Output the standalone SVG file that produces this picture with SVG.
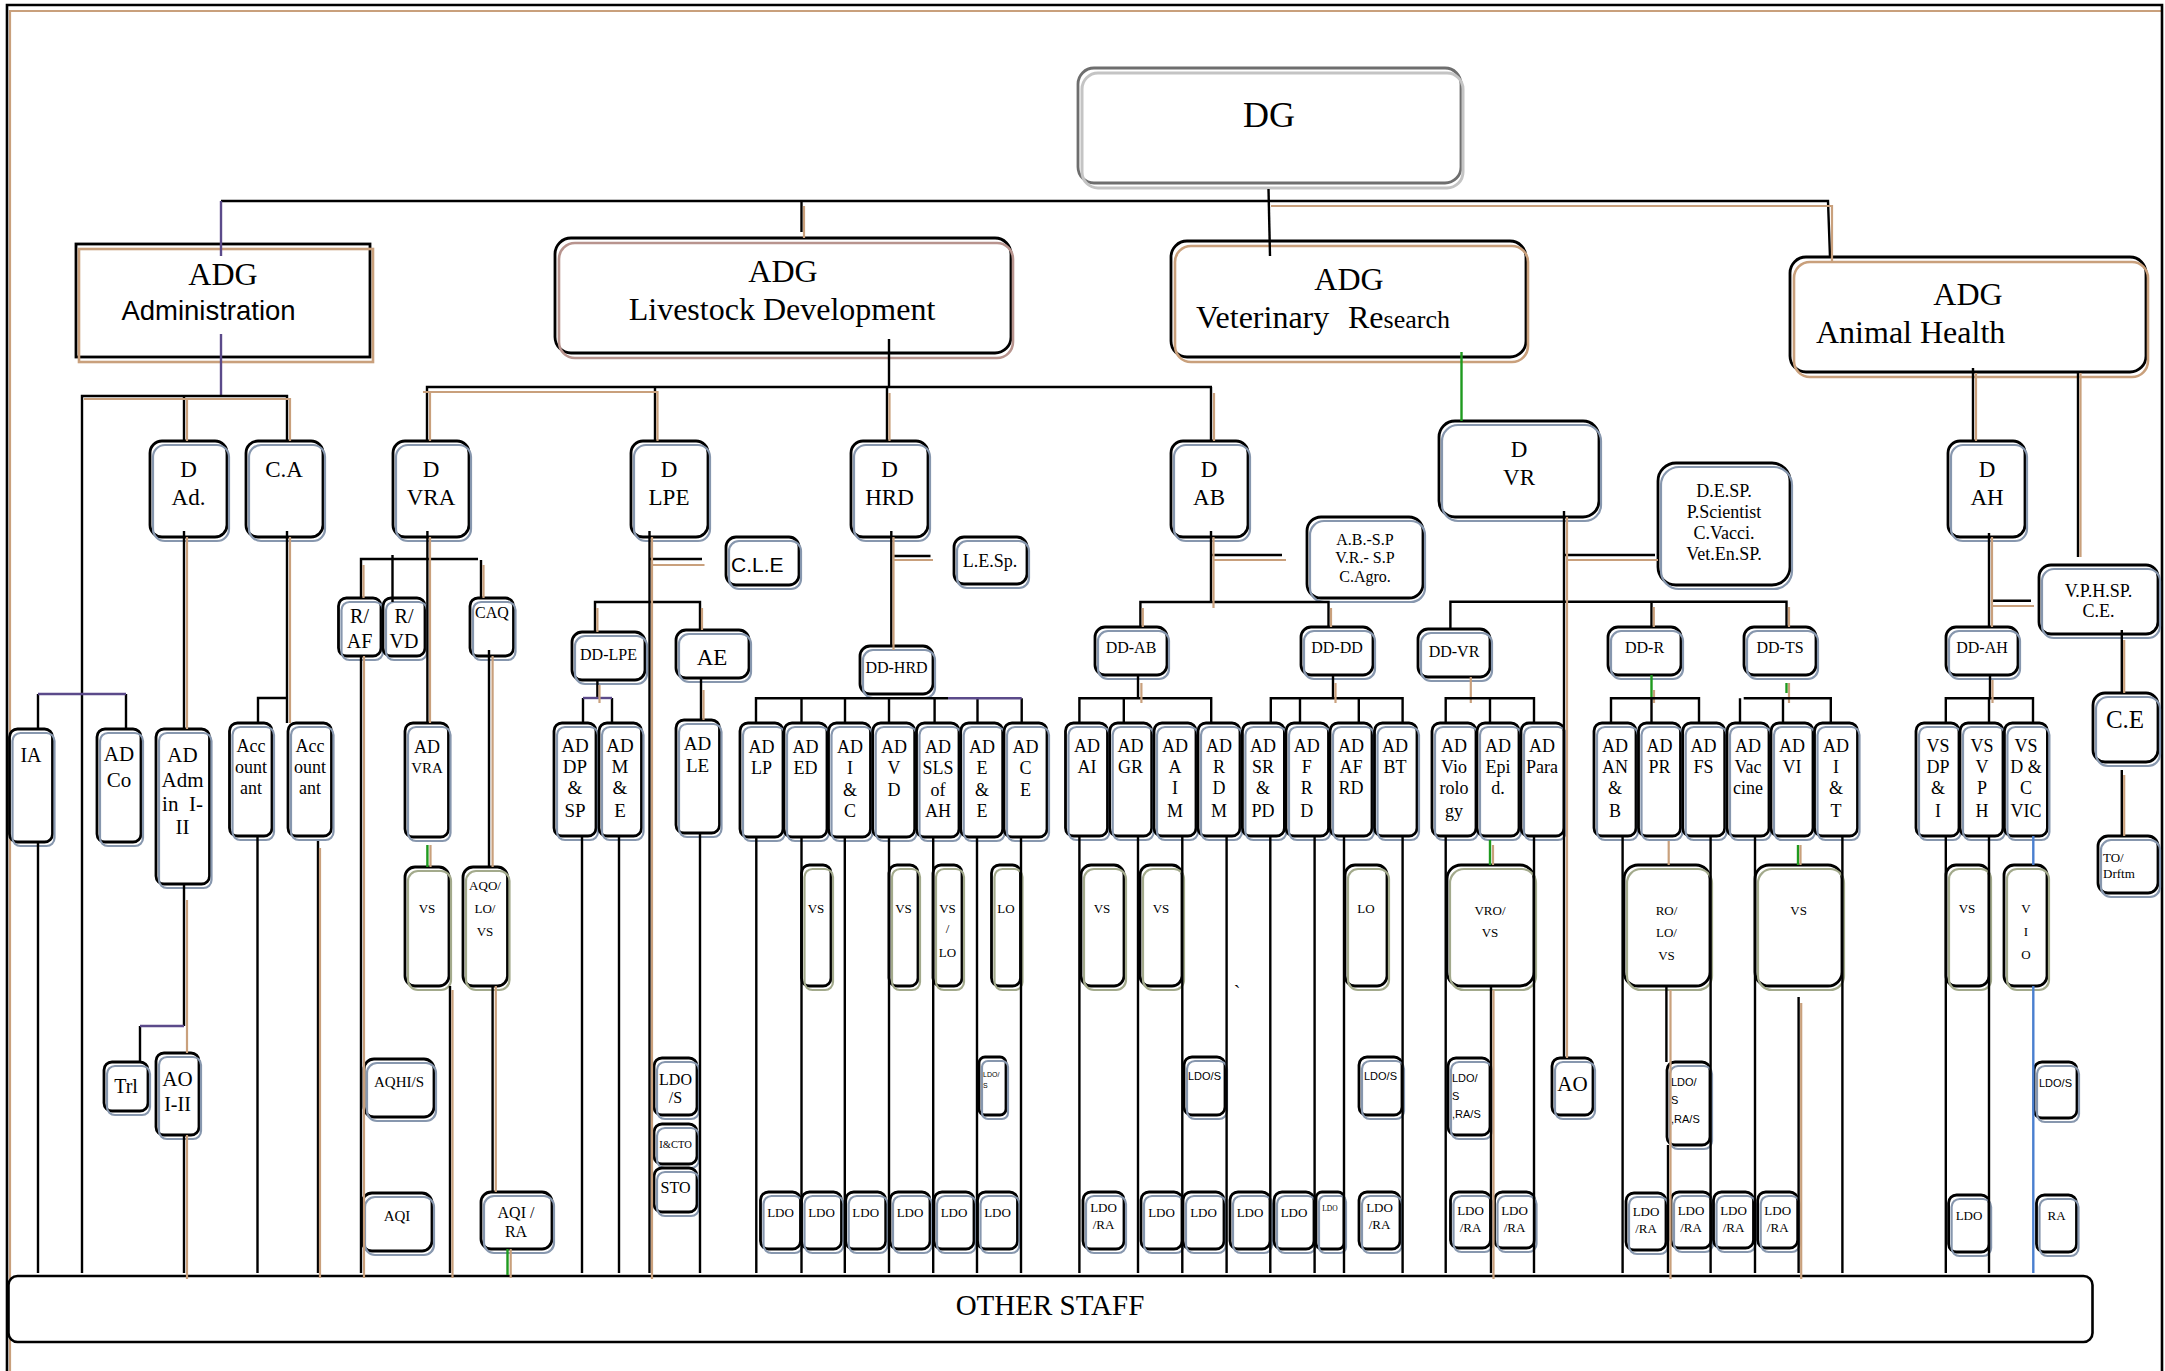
<svg xmlns="http://www.w3.org/2000/svg" width="2165" height="1371" viewBox="0 0 2165 1371">
<defs><style>
.n{fill:#fff;stroke:#000;stroke-width:2.8}
.s{fill:none;stroke:#8797ae;stroke-width:2.2}
.so{fill:none;stroke:#a3aa8c;stroke-width:2.2}
.st{fill:none;stroke:#c9a07c;stroke-width:2.6}
.k{stroke:#000;stroke-width:2.4;fill:none}
.t{stroke:#c9a07c;stroke-width:2.2;fill:none}
.p{stroke:#5b4a8a;stroke-width:2.4;fill:none}
.g{stroke:#1f9a1f;stroke-width:2.4;fill:none}
.b{stroke:#4a7fcf;stroke-width:2.4;fill:none}
text{font-family:"Liberation Serif","Times New Roman",serif;text-anchor:middle;fill:#000}
.sa{font-family:"Liberation Sans",Arial,sans-serif}
.l{text-anchor:start}
</style></defs>
<rect width="2165" height="1371" fill="#fff"/>
<g id="frame">
<path class="t" d="M10,1371 V11 H2161"/>
<path d="M7,1371 V5 H2162 V1371" fill="none" stroke="#000" stroke-width="2.6"/>
</g>
<g id="nodes">
<g id="dg"><rect x="1078" y="68" width="383" height="115" rx="16" fill="#fff" stroke="#6e6e6e" stroke-width="2.8"/><rect x="1082" y="73" width="381" height="115" rx="16" fill="none" stroke="#c4c4c4" stroke-width="3"/><text x="1269" y="127" font-size="36">DG</text></g>
<g id="adg-admin"><rect class="n" x="76" y="244" width="294" height="113"/><rect class="st" x="79" y="249" width="294" height="113"/><text x="223" y="285" font-size="32">ADG</text><text class="sa" x="208.5" y="320" font-size="27.5">Administration</text></g>
<g id="adg-ld"><rect class="n" x="555" y="238" width="456" height="115" rx="16"/><rect x="559" y="243" width="454" height="115" rx="16" fill="none" stroke="#b8948e" stroke-width="2.6"/><text x="783" y="282" font-size="32">ADG</text><text x="782" y="320" font-size="32">Livestock Development</text></g>
<g id="adg-vr"><rect class="n" x="1171" y="241" width="355" height="116" rx="16"/><rect class="st" x="1175" y="246" width="353" height="116" rx="16"/><text x="1349" y="290" font-size="32">ADG</text><text class="l" x="1196" y="328" font-size="32">Veterinary<tspan x="1348">Re</tspan><tspan font-size="26">search</tspan></text></g>
<g id="adg-ah"><rect class="n" x="1790" y="257" width="356" height="115" rx="16"/><rect class="st" x="1794" y="262" width="354" height="115" rx="16"/><text x="1968" y="305" font-size="32">ADG</text><text class="l" x="1816" y="343" font-size="32">Animal Health</text></g>

<g id="d-ad"><rect class="n" x="150" y="441" width="77" height="96" rx="12"/><rect class="s" x="153" y="445" width="76" height="96" rx="12"/><text x="188.5" y="477" font-size="23">D</text><text x="188.5" y="505" font-size="23">Ad.</text></g>
<g id="ca"><rect class="n" x="246" y="441" width="77" height="96" rx="12"/><rect class="s" x="249" y="445" width="76" height="96" rx="12"/><text x="284" y="477" font-size="23">C.A</text></g>
<g id="d-vra"><rect class="n" x="393" y="441" width="76" height="96" rx="12"/><rect class="s" x="396" y="445" width="75" height="96" rx="12"/><text x="431" y="477" font-size="23">D</text><text x="431" y="505" font-size="23">VRA</text></g>
<g id="d-lpe"><rect class="n" x="631" y="441" width="77" height="96" rx="12"/><rect class="s" x="634" y="445" width="76" height="96" rx="12"/><text x="669" y="477" font-size="23">D</text><text x="669" y="505" font-size="23">LPE</text></g>
<g id="d-hrd"><rect class="n" x="851" y="441" width="77" height="96" rx="12"/><rect class="s" x="854" y="445" width="76" height="96" rx="12"/><text x="889.5" y="477" font-size="23">D</text><text x="889.5" y="505" font-size="23">HRD</text></g>
<g id="d-ab"><rect class="n" x="1171" y="441" width="77" height="96" rx="12"/><rect class="s" x="1174" y="445" width="76" height="96" rx="12"/><text x="1209" y="477" font-size="23">D</text><text x="1209" y="505" font-size="23">AB</text></g>
<g id="d-vr"><rect class="n" x="1439" y="421" width="160" height="96" rx="16"/><rect class="s" x="1442" y="425" width="159" height="96" rx="16"/><text x="1519" y="457" font-size="23">D</text><text x="1519" y="485" font-size="23">VR</text></g>
<g id="d-ah"><rect class="n" x="1948" y="441" width="77" height="96" rx="12"/><rect class="s" x="1951" y="445" width="76" height="96" rx="12"/><text x="1987" y="477" font-size="23">D</text><text x="1987" y="505" font-size="23">AH</text></g>

<g id="cle"><rect class="n" x="726" y="537" width="73" height="48" rx="10"/><rect class="s" x="729" y="541" width="72" height="48" rx="10"/><text class="sa l" x="731" y="572" font-size="21">C.L.E</text></g>
<g id="lesp"><rect class="n" x="954" y="537" width="73" height="47" rx="10"/><rect class="s" x="957" y="541" width="72" height="47" rx="10"/><text x="990" y="567" font-size="18">L.E.Sp.</text></g>
<g id="ab-sp"><rect class="n" x="1307" y="517" width="116" height="81" rx="14"/><rect class="s" x="1310" y="521" width="115" height="81" rx="14"/><text x="1365" y="545" font-size="16">A.B.-S.P</text><text x="1365" y="563" font-size="16">V.R.- S.P</text><text x="1365" y="582" font-size="16">C.Agro.</text></g>
<g id="de-sp"><rect class="n" x="1658" y="463" width="132" height="122" rx="18"/><rect class="s" x="1661" y="467" width="131" height="122" rx="18"/><text x="1724" y="497" font-size="18">D.E.SP.</text><text x="1724" y="518" font-size="18">P.Scientist</text><text x="1724" y="539" font-size="18">C.Vacci.</text><text x="1724" y="560" font-size="18">Vet.En.SP.</text></g>
<g id="vphsp"><rect class="n" x="2039" y="565" width="119" height="69" rx="12"/><rect class="s" x="2042" y="569" width="118" height="69" rx="12"/><text x="2098.5" y="597" font-size="18">V.P.H.SP.</text><text x="2098.5" y="617" font-size="18">C.E.</text></g>
<g id="ce"><rect class="n" x="2093" y="693" width="65" height="69" rx="12"/><rect class="s" x="2096" y="697" width="64" height="69" rx="12"/><text x="2125" y="728" font-size="25">C.E</text></g>
<g id="to-drftm"><rect class="n" x="2098" y="836" width="60" height="57" rx="10"/><rect class="s" x="2101" y="840" width="59" height="57" rx="10"/><text class="l" x="2103" y="862" font-size="13">TO/</text><text class="l" x="2103" y="878" font-size="13">Drftm</text></g>

<g id="r-af"><rect class="n" x="338.5" y="598" width="42.5" height="58" rx="8"/><rect class="s" x="341.5" y="602" width="41.5" height="58" rx="8"/><text x="359.5" y="623" font-size="20">R/</text><text x="359.5" y="648" font-size="20">AF</text></g>
<g id="r-vd"><rect class="n" x="383" y="598" width="42" height="58" rx="8"/><rect class="s" x="386" y="602" width="41" height="58" rx="8"/><text x="404" y="623" font-size="20">R/</text><text x="404" y="648" font-size="20">VD</text></g>
<g id="caq"><rect class="n" x="470" y="598" width="43.5" height="58" rx="8"/><rect class="s" x="473" y="602" width="42.5" height="58" rx="8"/><text x="492" y="618" font-size="16">CAQ</text></g>

<g id="dd-lpe"><rect class="n" x="572" y="632" width="73" height="48" rx="10"/><rect class="s" x="575" y="636" width="72" height="48" rx="10"/><text x="608.5" y="660" font-size="16">DD-LPE</text></g>
<g id="ae"><rect class="n" x="676" y="630" width="73" height="48" rx="10"/><rect class="s" x="679" y="634" width="72" height="48" rx="10"/><text x="712" y="665" font-size="23">AE</text></g>
<g id="dd-hrd"><rect class="n" x="860" y="646" width="73" height="48" rx="10"/><rect class="s" x="863" y="650" width="72" height="48" rx="10"/><text x="896.5" y="673" font-size="16">DD-HRD</text></g>
<g id="dd-ab"><rect class="n" x="1095" y="627" width="72" height="48" rx="10"/><rect class="s" x="1098" y="631" width="71" height="48" rx="10"/><text x="1131" y="653" font-size="16">DD-AB</text></g>
<g id="dd-dd"><rect class="n" x="1301" y="627" width="72" height="48" rx="10"/><rect class="s" x="1304" y="631" width="71" height="48" rx="10"/><text x="1337" y="653" font-size="16">DD-DD</text></g>
<g id="dd-vr"><rect class="n" x="1418" y="629" width="72" height="48" rx="10"/><rect class="s" x="1421" y="633" width="71" height="48" rx="10"/><text x="1454" y="657" font-size="16">DD-VR</text></g>
<g id="dd-r"><rect class="n" x="1608" y="627" width="73" height="48" rx="10"/><rect class="s" x="1611" y="631" width="72" height="48" rx="10"/><text x="1644.5" y="653" font-size="16">DD-R</text></g>
<g id="dd-ts"><rect class="n" x="1744" y="627" width="72" height="48" rx="10"/><rect class="s" x="1747" y="631" width="71" height="48" rx="10"/><text x="1780" y="653" font-size="16">DD-TS</text></g>
<g id="dd-ah"><rect class="n" x="1946" y="627" width="72" height="48" rx="10"/><rect class="s" x="1949" y="631" width="71" height="48" rx="10"/><text x="1982" y="653" font-size="16">DD-AH</text></g>

<g id="ia"><rect class="n" x="9.5" y="729" width="43" height="113" rx="8"/><rect class="s" x="12.5" y="733" width="42" height="113" rx="8"/><text x="31" y="762" font-size="20">IA</text></g>
<g id="ad-co"><rect class="n" x="97" y="729" width="44" height="113" rx="8"/><rect class="s" x="100" y="733" width="43" height="113" rx="8"/><text x="119" y="761" font-size="21">AD</text><text x="119" y="787" font-size="21">Co</text></g>
<g id="ad-adm"><rect class="n" x="156" y="729" width="53.5" height="155" rx="8"/><rect class="s" x="159" y="733" width="52.5" height="155" rx="8"/><text x="182.5" y="762" font-size="21">AD</text><text x="182.5" y="787" font-size="21">Adm</text><text x="182.5" y="811" font-size="21" xml:space="preserve">in  I-</text><text x="182.5" y="834" font-size="21">II</text></g>
<g id="acc1"><rect class="n" x="229.5" y="723" width="42.5" height="113" rx="8"/><rect class="s" x="232.5" y="727" width="41.5" height="113" rx="8"/><text x="251" y="752" font-size="18">Acc</text><text x="251" y="773" font-size="18">ount</text><text x="251" y="794" font-size="18">ant</text></g>
<g id="acc2"><rect class="n" x="288" y="723" width="43.5" height="113" rx="8"/><rect class="s" x="291" y="727" width="42.5" height="113" rx="8"/><text x="310" y="752" font-size="18">Acc</text><text x="310" y="773" font-size="18">ount</text><text x="310" y="794" font-size="18">ant</text></g>
<g id="ad-vra"><rect class="n" x="405" y="723" width="43.5" height="114" rx="8"/><rect class="s" x="408" y="727" width="42.5" height="114" rx="8"/><text x="427" y="753" font-size="18">AD</text><text x="427" y="773" font-size="15">VRA</text></g>
<g id="ad-dpsp"><rect class="n" x="554" y="723" width="42" height="113" rx="8"/><rect class="s" x="557" y="727" width="41" height="113" rx="8"/><text x="575" y="752" font-size="19">AD</text><text x="575" y="773" font-size="19">DP</text><text x="575" y="794" font-size="19">&amp;</text><text x="575" y="817" font-size="19">SP</text></g>
<g id="ad-me"><rect class="n" x="599" y="723" width="42.5" height="113" rx="8"/><rect class="s" x="602" y="727" width="41.5" height="113" rx="8"/><text x="620" y="752" font-size="19">AD</text><text x="620" y="773" font-size="19">M</text><text x="620" y="794" font-size="19">&amp;</text><text x="620" y="817" font-size="19">E</text></g>
<g id="ad-le"><rect class="n" x="676" y="720" width="43.5" height="113" rx="8"/><rect class="s" x="679" y="724" width="42.5" height="113" rx="8"/><text x="697.5" y="750" font-size="19">AD</text><text x="697.5" y="772" font-size="19">LE</text></g>

<g id="ad-lp"><rect class="n" x="740" y="723" width="43" height="114" rx="8"/><rect class="s" x="743" y="727" width="42" height="114" rx="8"/><text x="761.5" y="753" font-size="18">AD</text><text x="761.5" y="774" font-size="18">LP</text></g>
<g id="ad-ed"><rect class="n" x="784" y="723" width="43" height="114" rx="8"/><rect class="s" x="787" y="727" width="42" height="114" rx="8"/><text x="805.5" y="753" font-size="18">AD</text><text x="805.5" y="774" font-size="18">ED</text></g>
<g id="ad-ic"><rect class="n" x="828.5" y="723" width="42" height="114" rx="8"/><rect class="s" x="831.5" y="727" width="41" height="114" rx="8"/><text x="850" y="753" font-size="18">AD</text><text x="850" y="774" font-size="18">I</text><text x="850" y="796" font-size="18">&amp;</text><text x="850" y="817" font-size="18">C</text></g>
<g id="ad-vd"><rect class="n" x="872.7" y="723" width="42" height="114" rx="8"/><rect class="s" x="875.7" y="727" width="41" height="114" rx="8"/><text x="894" y="753" font-size="18">AD</text><text x="894" y="774" font-size="18">V</text><text x="894" y="796" font-size="18">D</text></g>
<g id="ad-sls"><rect class="n" x="916.5" y="723" width="42.5" height="114" rx="8"/><rect class="s" x="919.5" y="727" width="41.5" height="114" rx="8"/><text x="938" y="753" font-size="18">AD</text><text x="938" y="774" font-size="18">SLS</text><text x="938" y="796" font-size="18">of</text><text x="938" y="817" font-size="18">AH</text></g>
<g id="ad-ee"><rect class="n" x="960.7" y="723" width="42" height="114" rx="8"/><rect class="s" x="963.7" y="727" width="41" height="114" rx="8"/><text x="982" y="753" font-size="18">AD</text><text x="982" y="774" font-size="18">E</text><text x="982" y="796" font-size="18">&amp;</text><text x="982" y="817" font-size="18">E</text></g>
<g id="ad-ce"><rect class="n" x="1004" y="723" width="43" height="114" rx="8"/><rect class="s" x="1007" y="727" width="42" height="114" rx="8"/><text x="1025.5" y="753" font-size="18">AD</text><text x="1025.5" y="774" font-size="18">C</text><text x="1025.5" y="796" font-size="18">E</text></g>

<g id="ad-ai"><rect class="n" x="1065.5" y="723" width="42" height="113" rx="8"/><rect class="s" x="1068.5" y="727" width="41" height="113" rx="8"/><text x="1087" y="752" font-size="18">AD</text><text x="1087" y="773" font-size="18">AI</text></g>
<g id="ad-gr"><rect class="n" x="1109.7" y="723" width="42" height="113" rx="8"/><rect class="s" x="1112.7" y="727" width="41" height="113" rx="8"/><text x="1130.6" y="752" font-size="18">AD</text><text x="1130.6" y="773" font-size="18">GR</text></g>
<g id="ad-aim"><rect class="n" x="1154" y="723" width="42" height="113" rx="8"/><rect class="s" x="1157" y="727" width="41" height="113" rx="8"/><text x="1175" y="752" font-size="18">AD</text><text x="1175" y="773" font-size="18">A</text><text x="1175" y="794" font-size="18">I</text><text x="1175" y="817" font-size="18">M</text></g>
<g id="ad-rdm"><rect class="n" x="1198" y="723" width="42" height="113" rx="8"/><rect class="s" x="1201" y="727" width="41" height="113" rx="8"/><text x="1219" y="752" font-size="18">AD</text><text x="1219" y="773" font-size="18">R</text><text x="1219" y="794" font-size="18">D</text><text x="1219" y="817" font-size="18">M</text></g>
<g id="ad-srpd"><rect class="n" x="1242.4" y="723" width="42" height="113" rx="8"/><rect class="s" x="1245.4" y="727" width="41" height="113" rx="8"/><text x="1263" y="752" font-size="18">AD</text><text x="1263" y="773" font-size="18">SR</text><text x="1263" y="794" font-size="18">&amp;</text><text x="1263" y="817" font-size="18">PD</text></g>
<g id="ad-frd"><rect class="n" x="1286" y="723" width="42.5" height="113" rx="8"/><rect class="s" x="1289" y="727" width="41.5" height="113" rx="8"/><text x="1306.7" y="752" font-size="18">AD</text><text x="1306.7" y="773" font-size="18">F</text><text x="1306.7" y="794" font-size="18">R</text><text x="1306.7" y="817" font-size="18">D</text></g>
<g id="ad-afrd"><rect class="n" x="1330" y="723" width="42" height="113" rx="8"/><rect class="s" x="1333" y="727" width="41" height="113" rx="8"/><text x="1351" y="752" font-size="18">AD</text><text x="1351" y="773" font-size="18">AF</text><text x="1351" y="794" font-size="18">RD</text></g>
<g id="ad-bt"><rect class="n" x="1374.5" y="723" width="42.5" height="113" rx="8"/><rect class="s" x="1377.5" y="727" width="41.5" height="113" rx="8"/><text x="1395" y="752" font-size="18">AD</text><text x="1395" y="773" font-size="18">BT</text></g>

<g id="ad-viro"><rect class="n" x="1432" y="723" width="44" height="113" rx="8"/><rect class="s" x="1435" y="727" width="43" height="113" rx="8"/><text x="1454" y="752" font-size="18">AD</text><text x="1454" y="773" font-size="18">Vio</text><text x="1454" y="794" font-size="18">rolo</text><text x="1454" y="817" font-size="18">gy</text></g>
<g id="ad-epid"><rect class="n" x="1477" y="723" width="42" height="113" rx="8"/><rect class="s" x="1480" y="727" width="41" height="113" rx="8"/><text x="1498" y="752" font-size="18">AD</text><text x="1498" y="773" font-size="18">Epi</text><text x="1498" y="794" font-size="18">d.</text></g>
<g id="ad-para"><rect class="n" x="1521" y="723" width="43" height="113" rx="8"/><rect class="s" x="1524" y="727" width="42" height="113" rx="8"/><text x="1542" y="752" font-size="18">AD</text><text x="1542" y="773" font-size="18">Para</text></g>
<g id="ad-anb"><rect class="n" x="1594" y="723" width="42" height="113" rx="8"/><rect class="s" x="1597" y="727" width="41" height="113" rx="8"/><text x="1615" y="752" font-size="18">AD</text><text x="1615" y="773" font-size="18">AN</text><text x="1615" y="794" font-size="18">&amp;</text><text x="1615" y="817" font-size="18">B</text></g>
<g id="ad-pr"><rect class="n" x="1638.5" y="723" width="42" height="113" rx="8"/><rect class="s" x="1641.5" y="727" width="41" height="113" rx="8"/><text x="1659.5" y="752" font-size="18">AD</text><text x="1659.5" y="773" font-size="18">PR</text></g>
<g id="ad-fs"><rect class="n" x="1682.7" y="723" width="42" height="113" rx="8"/><rect class="s" x="1685.7" y="727" width="41" height="113" rx="8"/><text x="1703.5" y="752" font-size="18">AD</text><text x="1703.5" y="773" font-size="18">FS</text></g>
<g id="ad-vac"><rect class="n" x="1727" y="723" width="42" height="113" rx="8"/><rect class="s" x="1730" y="727" width="41" height="113" rx="8"/><text x="1748" y="752" font-size="18">AD</text><text x="1748" y="773" font-size="18">Vac</text><text x="1748" y="794" font-size="18">cine</text></g>
<g id="ad-vi"><rect class="n" x="1771" y="723" width="42" height="113" rx="8"/><rect class="s" x="1774" y="727" width="41" height="113" rx="8"/><text x="1792" y="752" font-size="18">AD</text><text x="1792" y="773" font-size="18">VI</text></g>
<g id="ad-it"><rect class="n" x="1814.5" y="723" width="43" height="113" rx="8"/><rect class="s" x="1817.5" y="727" width="42" height="113" rx="8"/><text x="1836" y="752" font-size="18">AD</text><text x="1836" y="773" font-size="18">I</text><text x="1836" y="794" font-size="18">&amp;</text><text x="1836" y="817" font-size="18">T</text></g>
<g id="vs-dpi"><rect class="n" x="1916" y="723" width="43" height="113" rx="8"/><rect class="s" x="1919" y="727" width="42" height="113" rx="8"/><text x="1938" y="752" font-size="18">VS</text><text x="1938" y="773" font-size="18">DP</text><text x="1938" y="794" font-size="18">&amp;</text><text x="1938" y="817" font-size="18">I</text></g>
<g id="vs-vph"><rect class="n" x="1960" y="723" width="43" height="113" rx="8"/><rect class="s" x="1963" y="727" width="42" height="113" rx="8"/><text x="1982" y="752" font-size="18">VS</text><text x="1982" y="773" font-size="18">V</text><text x="1982" y="794" font-size="18">P</text><text x="1982" y="817" font-size="18">H</text></g>
<g id="vs-dcvic"><rect class="n" x="2004.4" y="723" width="43" height="113" rx="8"/><rect class="s" x="2007.4" y="727" width="42" height="113" rx="8"/><text x="2026" y="752" font-size="18">VS</text><text x="2026" y="773" font-size="18">D &amp;</text><text x="2026" y="794" font-size="18">C</text><text x="2026" y="817" font-size="18">VIC</text></g>

<g id="vs-vra"><rect class="n" x="405" y="867" width="44" height="119" rx="10"/><rect class="so" x="408" y="871" width="43" height="119" rx="10"/><text x="427" y="913" font-size="13">VS</text></g>
<g id="aqo"><rect class="n" x="463" y="867" width="44.5" height="119" rx="10"/><rect class="so" x="466" y="871" width="43.5" height="119" rx="10"/><text x="485" y="890" font-size="13">AQO/</text><text x="485" y="913" font-size="13">LO/</text><text x="485" y="936" font-size="13">VS</text></g>
<g id="vs-hrd1"><rect class="n" x="801.5" y="865" width="29.5" height="121" rx="8"/><rect class="so" x="804.5" y="869" width="28.5" height="121" rx="8"/><text x="816" y="913" font-size="13">VS</text></g>
<g id="vs-hrd2"><rect class="n" x="889" y="865" width="29" height="121" rx="8"/><rect class="so" x="892" y="869" width="28" height="121" rx="8"/><text x="903.5" y="913" font-size="13">VS</text></g>
<g id="vs-lo"><rect class="n" x="933" y="865" width="29" height="121" rx="8"/><rect class="so" x="936" y="869" width="28" height="121" rx="8"/><text x="947.5" y="913" font-size="13">VS</text><text x="947.5" y="933" font-size="13">/</text><text x="947.5" y="957" font-size="13">LO</text></g>
<g id="lo-hrd"><rect class="n" x="991.5" y="865" width="29" height="121" rx="8"/><rect class="so" x="994.5" y="869" width="28" height="121" rx="8"/><text x="1006" y="913" font-size="13">LO</text></g>
<g id="vs-ab1"><rect class="n" x="1081" y="865" width="43" height="121" rx="10"/><rect class="so" x="1084" y="869" width="42" height="121" rx="10"/><text x="1102" y="913" font-size="13">VS</text></g>
<g id="vs-ab2"><rect class="n" x="1140" y="865" width="42" height="121" rx="10"/><rect class="so" x="1143" y="869" width="41" height="121" rx="10"/><text x="1161" y="913" font-size="13">VS</text></g>
<g id="lo-ab"><rect class="n" x="1345" y="865" width="42" height="121" rx="10"/><rect class="so" x="1348" y="869" width="41" height="121" rx="10"/><text x="1366" y="913" font-size="13">LO</text></g>
<g id="vro-vs"><rect class="n" x="1447" y="865" width="87" height="121" rx="14"/><rect class="so" x="1450" y="869" width="86" height="121" rx="14"/><text x="1490" y="915" font-size="13">VRO/</text><text x="1490" y="937" font-size="13">VS</text></g>
<g id="ro-lo-vs"><rect class="n" x="1624" y="865" width="86" height="121" rx="14"/><rect class="so" x="1627" y="869" width="85" height="121" rx="14"/><text x="1666.5" y="915" font-size="13">RO/</text><text x="1666.5" y="937" font-size="13">LO/</text><text x="1666.5" y="960" font-size="13">VS</text></g>
<g id="vs-ts"><rect class="n" x="1755" y="865" width="87" height="121" rx="14"/><rect class="so" x="1758" y="869" width="86" height="121" rx="14"/><text x="1798.6" y="915" font-size="13">VS</text></g>
<g id="vs-ah"><rect class="n" x="1946" y="865" width="43" height="121" rx="10"/><rect class="so" x="1949" y="869" width="42" height="121" rx="10"/><text x="1967" y="913" font-size="13">VS</text></g>
<g id="vio"><rect class="n" x="2004" y="865" width="43" height="121" rx="10"/><rect class="so" x="2007" y="869" width="42" height="121" rx="10"/><text x="2026" y="913" font-size="13">V</text><text x="2026" y="936" font-size="13">I</text><text x="2026" y="959" font-size="13">O</text></g>

<g id="trl"><rect class="n" x="104" y="1062" width="44" height="49" rx="8"/><rect class="s" x="107" y="1066" width="43" height="49" rx="8"/><text x="126" y="1093" font-size="20">Trl</text></g>
<g id="ao-i-ii"><rect class="n" x="156" y="1053" width="43" height="82" rx="8"/><rect class="s" x="159" y="1057" width="42" height="82" rx="8"/><text x="177.5" y="1086" font-size="21">AO</text><text x="177.5" y="1111" font-size="20">I-II</text></g>
<g id="aqhi-s"><rect class="n" x="364" y="1059" width="70" height="58" rx="10"/><rect class="s" x="367" y="1063" width="69" height="58" rx="10"/><text x="399" y="1087" font-size="15">AQHI/S</text></g>
<g id="ldo-s-lpe"><rect class="n" x="654" y="1058" width="43" height="57" rx="8"/><rect class="s" x="657" y="1062" width="42" height="57" rx="8"/><text x="675.5" y="1085" font-size="16">LDO</text><text x="675.5" y="1103" font-size="16">/S</text></g>
<g id="icto"><rect class="n" x="654" y="1124" width="43" height="40" rx="8"/><rect class="s" x="657" y="1128" width="42" height="40" rx="8"/><text x="675.5" y="1148" font-size="10.5">I&amp;CTO</text></g>
<g id="sto"><rect class="n" x="654" y="1168" width="43" height="44" rx="8"/><rect class="s" x="657" y="1172" width="42" height="44" rx="8"/><text x="675.5" y="1193" font-size="16">STO</text></g>
<g id="ldo-s-hrd"><rect class="n" x="979" y="1057" width="27" height="58" rx="6"/><rect class="s" x="982" y="1061" width="26" height="58" rx="6"/><text class="sa l" x="983" y="1077" font-size="7">LDO/</text><text class="sa l" x="983" y="1088" font-size="7">S</text></g>
<g id="ldo-s-ab1"><rect class="n" x="1184" y="1057" width="41" height="58" rx="8"/><rect class="s" x="1187" y="1061" width="40" height="58" rx="8"/><text class="sa" x="1204.5" y="1080" font-size="11">LDO/S</text></g>
<g id="ldo-s-ab2"><rect class="n" x="1359" y="1057" width="43" height="58" rx="8"/><rect class="s" x="1362" y="1061" width="42" height="58" rx="8"/><text class="sa" x="1380.5" y="1080" font-size="11">LDO/S</text></g>
<g id="ldo-s-ra-vr"><rect class="n" x="1448" y="1058" width="42" height="77" rx="8"/><rect class="s" x="1451" y="1062" width="41" height="77" rx="8"/><text class="sa l" x="1452" y="1082" font-size="11">LDO/</text><text class="sa l" x="1452" y="1100" font-size="11">S</text><text class="sa l" x="1452" y="1118" font-size="11">,RA/S</text></g>
<g id="ao-vr"><rect class="n" x="1552" y="1058" width="41" height="57" rx="8"/><rect class="s" x="1555" y="1062" width="40" height="57" rx="8"/><text x="1572.5" y="1091" font-size="21">AO</text></g>
<g id="ldo-s-ra-r"><rect class="n" x="1667" y="1062" width="43" height="83" rx="8"/><rect class="s" x="1670" y="1066" width="42" height="83" rx="8"/><text class="sa l" x="1671" y="1086" font-size="11">LDO/</text><text class="sa l" x="1671" y="1104" font-size="11">S</text><text class="sa l" x="1671" y="1123" font-size="11">,RA/S</text></g>
<g id="ldo-s-ah"><rect class="n" x="2034" y="1062" width="43" height="56" rx="8"/><rect class="s" x="2037" y="1066" width="42" height="56" rx="8"/><text class="sa" x="2055.5" y="1087" font-size="11">LDO/S</text></g>

<g id="aqi"><rect class="n" x="362" y="1193" width="70" height="58" rx="10"/><rect class="s" x="365" y="1197" width="69" height="58" rx="10"/><text x="397" y="1221" font-size="15">AQI</text></g>
<g id="aqi-ra"><rect class="n" x="481" y="1192" width="71" height="57" rx="10"/><rect class="s" x="484" y="1196" width="70" height="57" rx="10"/><text x="516" y="1218" font-size="16">AQI /</text><text x="516" y="1237" font-size="16">RA</text></g>
<g id="ldo-hrd1"><rect class="n" x="760.5" y="1192" width="40" height="57" rx="8"/><rect class="s" x="763.5" y="1196" width="39" height="57" rx="8"/><text x="780.5" y="1217" font-size="13">LDO</text></g>
<g id="ldo-hrd2"><rect class="n" x="801.5" y="1192" width="40" height="57" rx="8"/><rect class="s" x="804.5" y="1196" width="39" height="57" rx="8"/><text x="821.5" y="1217" font-size="13">LDO</text></g>
<g id="ldo-hrd3"><rect class="n" x="845.7" y="1192" width="40" height="57" rx="8"/><rect class="s" x="848.7" y="1196" width="39" height="57" rx="8"/><text x="865.7" y="1217" font-size="13">LDO</text></g>
<g id="ldo-hrd4"><rect class="n" x="890" y="1192" width="40" height="57" rx="8"/><rect class="s" x="893" y="1196" width="39" height="57" rx="8"/><text x="910" y="1217" font-size="13">LDO</text></g>
<g id="ldo-hrd5"><rect class="n" x="934" y="1192" width="40" height="57" rx="8"/><rect class="s" x="937" y="1196" width="39" height="57" rx="8"/><text x="954" y="1217" font-size="13">LDO</text></g>
<g id="ldo-hrd6"><rect class="n" x="977.5" y="1192" width="40" height="57" rx="8"/><rect class="s" x="980.5" y="1196" width="39" height="57" rx="8"/><text x="997.5" y="1217" font-size="13">LDO</text></g>
<g id="ldo-ra-ab1"><rect class="n" x="1083" y="1192" width="41" height="57" rx="8"/><rect class="s" x="1086" y="1196" width="40" height="57" rx="8"/><text x="1103.5" y="1212" font-size="13">LDO</text><text x="1103.5" y="1229" font-size="13">/RA</text></g>
<g id="ldo-ab1"><rect class="n" x="1141" y="1192" width="41" height="57" rx="8"/><rect class="s" x="1144" y="1196" width="40" height="57" rx="8"/><text x="1161.5" y="1217" font-size="13">LDO</text></g>
<g id="ldo-ab2"><rect class="n" x="1183" y="1192" width="41" height="57" rx="8"/><rect class="s" x="1186" y="1196" width="40" height="57" rx="8"/><text x="1203.5" y="1217" font-size="13">LDO</text></g>
<g id="ldo-ab3"><rect class="n" x="1230" y="1192" width="40" height="57" rx="8"/><rect class="s" x="1233" y="1196" width="39" height="57" rx="8"/><text x="1250" y="1217" font-size="13">LDO</text></g>
<g id="ldo-ab4"><rect class="n" x="1274" y="1192" width="40" height="57" rx="8"/><rect class="s" x="1277" y="1196" width="39" height="57" rx="8"/><text x="1294" y="1217" font-size="13">LDO</text></g>
<g id="ldo-ab5"><rect class="n" x="1316" y="1192" width="28" height="57" rx="6"/><rect class="s" x="1319" y="1196" width="27" height="57" rx="6"/><text x="1330" y="1211" font-size="7.5">LDO</text></g>
<g id="ldo-ra-ab2"><rect class="n" x="1359" y="1192" width="41" height="57" rx="8"/><rect class="s" x="1362" y="1196" width="40" height="57" rx="8"/><text x="1379.5" y="1212" font-size="13">LDO</text><text x="1379.5" y="1229" font-size="13">/RA</text></g>
<g id="ldo-ra-vr1"><rect class="n" x="1450.5" y="1192" width="40" height="56" rx="8"/><rect class="s" x="1453.5" y="1196" width="39" height="56" rx="8"/><text x="1470.5" y="1215" font-size="13">LDO</text><text x="1470.5" y="1232" font-size="13">/RA</text></g>
<g id="ldo-ra-vr2"><rect class="n" x="1494.5" y="1192" width="40" height="56" rx="8"/><rect class="s" x="1497.5" y="1196" width="39" height="56" rx="8"/><text x="1514.5" y="1215" font-size="13">LDO</text><text x="1514.5" y="1232" font-size="13">/RA</text></g>
<g id="ldo-ra-r1"><rect class="n" x="1626" y="1193" width="40" height="57" rx="8"/><rect class="s" x="1629" y="1197" width="39" height="57" rx="8"/><text x="1646" y="1216" font-size="13">LDO</text><text x="1646" y="1233" font-size="13">/RA</text></g>
<g id="ldo-ra-r2"><rect class="n" x="1671" y="1192" width="40" height="56" rx="8"/><rect class="s" x="1674" y="1196" width="39" height="56" rx="8"/><text x="1691" y="1215" font-size="13">LDO</text><text x="1691" y="1232" font-size="13">/RA</text></g>
<g id="ldo-ra-r3"><rect class="n" x="1713.5" y="1192" width="40" height="56" rx="8"/><rect class="s" x="1716.5" y="1196" width="39" height="56" rx="8"/><text x="1733.5" y="1215" font-size="13">LDO</text><text x="1733.5" y="1232" font-size="13">/RA</text></g>
<g id="ldo-ra-r4"><rect class="n" x="1757.7" y="1192" width="40" height="56" rx="8"/><rect class="s" x="1760.7" y="1196" width="39" height="56" rx="8"/><text x="1777.7" y="1215" font-size="13">LDO</text><text x="1777.7" y="1232" font-size="13">/RA</text></g>
<g id="ldo-ah"><rect class="n" x="1948.6" y="1195" width="40.5" height="57" rx="8"/><rect class="s" x="1951.6" y="1199" width="39.5" height="57" rx="8"/><text x="1969" y="1220" font-size="13">LDO</text></g>
<g id="ra-ah"><rect class="n" x="2036.5" y="1195" width="40" height="57" rx="8"/><rect class="s" x="2039.5" y="1199" width="39" height="57" rx="8"/><text x="2056.5" y="1220" font-size="13">RA</text></g>

<g id="other-staff"><rect x="8.5" y="1276" width="2084" height="66" rx="9" fill="#fff" stroke="#000" stroke-width="2.6"/><text x="1050" y="1315" font-size="29">OTHER STAFF</text></g>
<text x="1237" y="1000" font-size="20">`</text>
</g>

<g id="connectors">
<path class="k" d="M221,201 H1828 L1830,257"/>
<path class="t" d="M1271,206 H1832 V261"/>
<path class="p" d="M221,201 V256"/>
<path class="k" d="M801.5,201 V232"/>
<path class="t" d="M804,206 V238"/>
<path class="k" d="M1268.5,189 L1270,256"/>

<path class="p" d="M221,334 V395"/>
<path class="k" d="M82,1273 V396 H287 V441 M184,396 V440"/>
<path class="t" d="M84,399 H290 V441 M187,399 V441"/>

<path class="k" d="M889,339 V387 M427,441 V387 H1212 M655,387 V441 M887,387 V441 M1211,387 V441"/>
<path class="t" d="M423,392 H657.5 V441 M430,392 V441 M889.5,393 V441 M1214,393 V441"/>

<path class="g" d="M1461.5,352 V421"/>
<path class="k" d="M1973,368 V441 M2078,372 V557"/>
<path class="t" d="M1976,373 V441 M2080.5,373 V557"/>

<path class="k" d="M184,531 V729 M287,531 V723 M258,723 V698 H287"/>
<path class="t" d="M187,537 V729 M290,537 V723"/>
<path class="k" d="M38,729 V694 M126,694 V729"/>
<path class="p" d="M38,694 H126"/>
<path class="k" d="M38,842 V1273"/>
<path class="k" d="M184,884 V1026 M140,1026 V1062 M184,1135 V1273"/>
<path class="p" d="M140,1026 H184"/>
<path class="t" d="M187,900 V1053 M187,1135 V1279"/>
<path class="k" d="M257.5,836 V1273 M318,841 V1273"/>
<path class="t" d="M320,848 V1278"/>

<path class="k" d="M427.4,531 V723 M361,598 V559 H478 M392.5,555 V602 M481,560 V598"/>
<path class="t" d="M430,537 V723 M363.5,565 V598 M483.5,565 V598"/>
<path class="k" d="M361,656 V1273 M489,650 V867 M450,986 V1273 M492.6,986 V1192"/>
<path class="t" d="M364,656 V1278 M492.6,656 V867 M452.5,990 V1278 M495.8,986 V1192 M430.5,845 V867 M510.7,1249 V1278"/>
<path class="g" d="M427.4,845 V867 M507.5,1249 V1275"/>

<path class="k" d="M649.5,531 V1273 M649.5,559 H702 M595,632 V602 H700 V630"/>
<path class="t" d="M652,537 V1279 M652,565 H704.5 M597.4,608 V632 M702,608 V630"/>
<path class="k" d="M597.4,680 V698 M583,698 V723 M612,698 V723 M701,678 V720"/>
<path class="p" d="M583,698 H612"/>
<path class="t" d="M599.5,685 V703 M703.5,690 V720"/>
<path class="k" d="M582,836 V1273 M619,836 V1273 M700,833 V1273"/>

<path class="k" d="M891.3,531 V646 M893,556 H930.5"/>
<path class="t" d="M893.5,537 V650 M893.5,560 H933"/>
<path class="k" d="M756,723 V698.3 H948 M801.5,698.3 V723 M845,698.3 V723 M889,698.3 V723 M934.6,698.3 V723 M977.5,698.3 V723 M1021.7,698.3 V723"/>
<path class="p" d="M948,698.3 H1021.7"/>
<path class="k" d="M756.3,837 V1273 M801.5,837 V1273 M844.8,837 V1273 M889,837 V1273 M933.2,837 V1273 M977,837 V1273 M1021,837 V1273"/>

<path class="k" d="M1211,531 V602 M1211,555 H1282 M1140.4,627 V602 H1328.5 V627"/>
<path class="t" d="M1213.5,537 V608 M1213.5,560 H1286 M1142.8,608 V627 M1331,608 V627"/>
<path class="k" d="M1138,675 V698.3 M1079.4,723 V698.3 H1211.2 V723 M1123.8,698.3 V723"/>
<path class="t" d="M1141.4,683 V703"/>
<path class="k" d="M1333,675 V698.3 M1270.8,723 V698.3 H1402.6 V723 M1300,698.3 V723 M1358.8,698.3 V723"/>
<path class="t" d="M1335.5,683 V703"/>
<path class="k" d="M1079.4,836 V1273 M1138,836 V1273 M1182.3,836 V1273 M1226.6,836 V1273 M1270.3,836 V1273 M1314.6,836 V1273 M1344,836 V1273 M1402.6,836 V1273"/>

<path class="k" d="M1564,511 V1058 M1564,555 H1655 M1450.4,629 V601.7 H1786.5 V627 M1651.5,601.7 V627"/>
<path class="t" d="M1567,517 V1058 M1567,560 H1658 M1653.8,607 V627 M1789,607 V627"/>
<path class="t" d="M1470.8,677 V703"/>
<path class="k" d="M1445.7,723 V698.3 H1534 V723 M1490,698.3 V723"/>
<path class="k" d="M1445.7,836 V1273 M1534,836 V1273 M1491,986 V1273"/>
<path class="g" d="M1490,840 V865"/>
<path class="t" d="M1493,845 V865 M1493.5,990 V1279"/>

<path class="g" d="M1651.5,675 V698.3"/>
<path class="t" d="M1654,690 V703"/>
<path class="k" d="M1611,723 V698.3 H1699 V723 M1651.5,698.3 V723"/>
<path class="k" d="M1622.6,836 V1273 M1710.6,836 V1273 M1666.4,986 V1062 M1668,1145 V1273"/>
<path class="t" d="M1668.7,841 V865 M1670.5,990 V1279"/>
<path class="g" d="M1786.5,683 V693"/>
<path class="t" d="M1789,683 V703"/>
<path class="k" d="M1743.7,698.3 H1830.8 V723 M1740,698.3 V723 M1783,698.3 V723"/>
<path class="k" d="M1755,836 V1273 M1842.4,836 V1273 M1798.6,997 V1273"/>
<path class="g" d="M1798,845 V865"/>
<path class="t" d="M1800.5,845 V865 M1801.2,1003 V1279"/>

<path class="k" d="M1989,533 V627 M1992,600.7 H2031 M2121.8,630 V693 M2121.8,770 V836"/>
<path class="t" d="M1992,537 V627 M1992,606 H2034 M2124.2,640 V693 M2124.2,775 V836"/>
<path class="k" d="M1990,675 V698.3 M1945.8,723 V698.3 H2033 V723 M1989,698.3 V723"/>
<path class="t" d="M1992.5,680 V703"/>
<path class="k" d="M1945.8,836 V1273 M1989,836 V1273"/>
<path class="b" d="M2033.3,836 V865 M2033.3,986 V1273"/>
</g>
</svg>
